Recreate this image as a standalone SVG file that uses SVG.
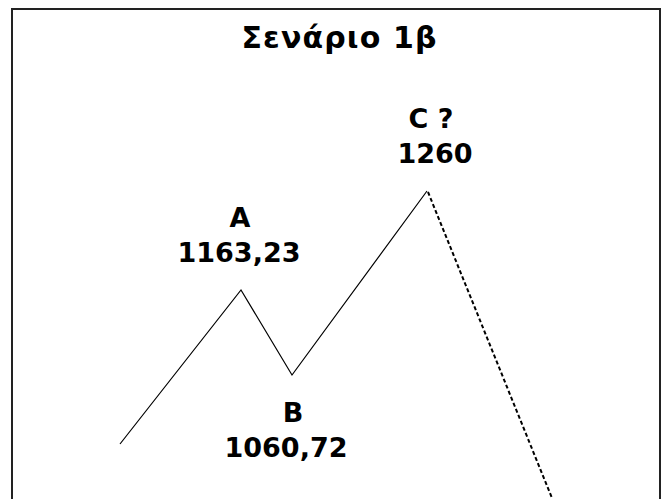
<svg xmlns="http://www.w3.org/2000/svg" width="663" height="499" viewBox="0 0 663 499">
<style>
.t{font-family:"DejaVu Sans",Verdana,sans-serif;font-weight:bold;fill:#000;text-anchor:middle;font-size:27px}
.ttl{font-size:30px}
.ln{fill:none;stroke:#000;stroke-width:1.2}
.dash{fill:none;stroke:#000;stroke-width:2;stroke-dasharray:4 2.5}
</style>
<rect width="663" height="499" fill="#fff"/>
<rect x="12" y="9" width="648" height="500" fill="none" stroke="#222" stroke-width="2"/>
<text class="t ttl" x="339" y="48" textLength="195" lengthAdjust="spacing">Σενάριο 1β</text>
<g id="nodeA"><text class="t" x="240" y="227">A</text><text class="t" x="239" y="262">1163,23</text></g>
<g id="nodeB"><text class="t" x="293" y="422">B</text><text class="t" x="286" y="457">1060,72</text></g>
<g id="nodeC"><text class="t" x="431" y="128">C ?</text><text class="t" x="435" y="163">1260</text></g>
<g id="connectors">
<polyline class="ln" points="120,444 241,290 292,375 427,191"/>
<line class="dash" x1="428" y1="192" x2="556" y2="508"/>
</g>
</svg>
